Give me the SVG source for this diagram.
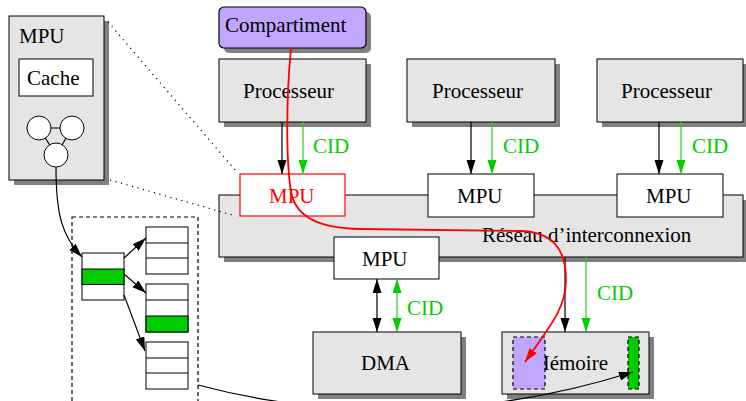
<svg xmlns="http://www.w3.org/2000/svg" width="746" height="401" viewBox="0 0 746 401">
  <style>
    text { font-family: "Liberation Serif", "Times New Roman", serif; font-size: 21px; fill: #000; }
    .grey { fill: #e5e5e5; stroke: #000; stroke-width: 1; }
    .white { fill: #fff; stroke: #000; stroke-width: 1; }
    .shadow { fill: #808080; stroke: none; }
    .cid { fill: #00cc00; }
    .ln { fill: none; stroke: #000; stroke-width: 1.2; }
    .gln { fill: none; stroke: #22cc22; stroke-width: 1.2; }
    .dot { fill: none; stroke: #000; stroke-width: 1.2; stroke-dasharray: 1.2 4.5; }
    .dash { fill: none; stroke: #000; stroke-width: 1.2; stroke-dasharray: 4 3; }
  </style>
  <defs>
    <marker id="ab" markerUnits="userSpaceOnUse" markerWidth="16" markerHeight="10" refX="14" refY="4.5" orient="auto-start-reverse">
      <path d="M0,0 L14,4.5 L0,9 Z" fill="#000"/>
    </marker>
    <marker id="ag" markerUnits="userSpaceOnUse" markerWidth="16" markerHeight="10" refX="14" refY="4.5" orient="auto-start-reverse">
      <path d="M0,0 L14,4.5 L0,9 Z" fill="#00cc00"/>
    </marker>
    <marker id="ar" markerUnits="userSpaceOnUse" markerWidth="16" markerHeight="10" refX="14" refY="4.5" orient="auto">
      <path d="M0,0 L14,4.5 L0,9 Z" fill="#ff0000"/>
    </marker>
  </defs>

  <!-- detailed MPU -->
  <g id="mpu-detail">
    <rect class="shadow" x="14" y="21" width="95" height="164"/>
    <rect class="grey" x="9" y="16" width="95" height="164"/>
    <text x="19" y="43">MPU</text>
    <rect class="white" x="19" y="59" width="74" height="37"/>
    <text x="27" y="85">Cache</text>
    <line class="ln" x1="39" y1="128" x2="72" y2="128"/>
    <line class="ln" x1="39" y1="128" x2="56" y2="155"/>
    <line class="ln" x1="72" y1="128" x2="56" y2="155"/>
    <circle class="white" cx="39" cy="128" r="12"/>
    <circle class="white" cx="72" cy="128" r="12"/>
    <circle class="white" cx="56" cy="155" r="12"/>
  </g>

  <!-- page tables -->
  <g id="tables">
    <rect class="dash" x="72" y="217" width="126" height="190"/>
    <g id="table-root">
      <rect class="white" x="82" y="253" width="42" height="47"/>
      <rect x="82" y="269" width="42" height="15.5" fill="#00cc00" stroke="#000"/>
    </g>
    <g id="table-1">
      <rect class="white" x="146" y="227" width="42" height="47"/>
      <line class="ln" x1="146" y1="243" x2="188" y2="243"/>
      <line class="ln" x1="146" y1="258" x2="188" y2="258"/>
    </g>
    <g id="table-2">
      <rect class="white" x="146" y="284" width="42" height="48"/>
      <line class="ln" x1="146" y1="300" x2="188" y2="300"/>
      <rect x="146" y="316" width="42" height="16" fill="#00cc00" stroke="#000"/>
    </g>
    <g id="table-3">
      <rect class="white" x="146" y="342" width="42" height="47"/>
      <line class="ln" x1="146" y1="358" x2="188" y2="358"/>
      <line class="ln" x1="146" y1="373" x2="188" y2="373"/>
    </g>
  </g>

  <!-- compartment -->
  <g id="compartiment">
    <rect class="shadow" x="224" y="12" width="147" height="41" rx="5"/>
    <rect x="219" y="7" width="147" height="41" rx="5" fill="#bfa6ff" stroke="#000" stroke-width="1.2"/>
    <text x="225" y="32">Compartiment</text>
  </g>

  <!-- processors -->
  <g id="processeur-1">
    <rect class="shadow" x="224" y="64" width="147" height="63"/>
    <rect class="grey" x="219" y="59" width="147" height="63"/>
    <text x="243" y="98">Processeur</text>
  </g>
  <g id="processeur-2">
    <rect class="shadow" x="412" y="64" width="148" height="63"/>
    <rect class="grey" x="407" y="59" width="148" height="63"/>
    <text x="432" y="98">Processeur</text>
  </g>
  <g id="processeur-3">
    <rect class="shadow" x="602" y="64" width="146" height="63"/>
    <rect class="grey" x="597" y="59" width="146" height="63"/>
    <text x="621" y="98">Processeur</text>
  </g>

  <!-- interconnect -->
  <g id="reseau">
    <rect class="shadow" x="224" y="200" width="524" height="62"/>
    <rect class="grey" x="219" y="195" width="524" height="62"/>
    <text x="482" y="242">Réseau d’interconnexion</text>
  </g>

  <!-- MPUs -->
  <g id="mpu-1">
    <rect x="240" y="174" width="105" height="42" fill="#fff" stroke="#ff0000" stroke-width="1.2"/>
    <text x="269" y="203" style="fill:#ff0000">MPU</text>
  </g>
  <g id="mpu-2">
    <rect class="white" x="428" y="174" width="106" height="43"/>
    <text x="457" y="203">MPU</text>
  </g>
  <g id="mpu-3">
    <rect class="white" x="617" y="174" width="106" height="43"/>
    <text x="646" y="203">MPU</text>
  </g>
  <g id="mpu-dma">
    <rect class="white" x="334" y="237" width="105" height="42"/>
    <text x="362" y="266">MPU</text>
  </g>

  <!-- DMA -->
  <g id="dma">
    <rect class="shadow" x="318" y="337" width="148" height="62"/>
    <rect class="grey" x="313" y="332" width="148" height="62"/>
    <text x="361" y="370">DMA</text>
  </g>

  <!-- memory -->
  <g id="memoire">
    <rect class="shadow" x="507" y="337" width="147" height="62"/>
    <rect class="grey" x="502" y="332" width="147" height="62"/>
    <text x="531" y="370">Mémoire</text>
    <rect x="513" y="337" width="32" height="52" fill="#bfa6ff" stroke="#000" stroke-width="1.2" stroke-dasharray="4 3"/>
    <rect x="628" y="337" width="11" height="52" fill="#00cc00" stroke="#000" stroke-width="1.2" stroke-dasharray="4 3"/>
  </g>

  <!-- connectors -->
  <g id="connectors">
    <line class="dot" x1="108" y1="22" x2="236" y2="171"/>
    <line class="dot" x1="110" y1="180" x2="236" y2="216"/>

    <line class="ln" x1="282" y1="122" x2="282" y2="174" marker-end="url(#ab)"/>
    <line class="gln" x1="303" y1="122" x2="303" y2="174" marker-end="url(#ag)"/>
    <text class="cid" x="313" y="153">CID</text>

    <line class="ln" x1="471" y1="122" x2="471" y2="174" marker-end="url(#ab)"/>
    <line class="gln" x1="492" y1="122" x2="492" y2="174" marker-end="url(#ag)"/>
    <text class="cid" x="503" y="153">CID</text>

    <line class="ln" x1="659" y1="122" x2="659" y2="174" marker-end="url(#ab)"/>
    <line class="gln" x1="681" y1="122" x2="681" y2="174" marker-end="url(#ag)"/>
    <text class="cid" x="692" y="153">CID</text>

    <line class="ln" x1="377" y1="279" x2="377" y2="332" marker-start="url(#ab)" marker-end="url(#ab)"/>
    <line class="gln" x1="397" y1="279" x2="397" y2="332" marker-start="url(#ag)" marker-end="url(#ag)"/>
    <text class="cid" x="407" y="315">CID</text>

    <line class="ln" x1="565" y1="257" x2="565" y2="332" marker-end="url(#ab)"/>
    <line class="gln" x1="586" y1="257" x2="586" y2="332" marker-end="url(#ag)"/>
    <text class="cid" x="597" y="300">CID</text>

    <path class="ln" d="M56 167 C56 215 62 236 82 257" marker-end="url(#ab)"/>
    <line class="ln" x1="124" y1="258" x2="146" y2="238" marker-end="url(#ab)"/>
    <line class="ln" x1="124" y1="274" x2="146" y2="293" marker-end="url(#ab)"/>
    <line class="ln" x1="124" y1="295" x2="145" y2="351" marker-end="url(#ab)"/>
    <path class="ln" d="M198 385 C330 420 480 420 633 372" marker-end="url(#ab)"/>

    <path d="M291 48 C286 100 286 160 291 192 C296 218 320 228 360 229 L520 231 C552 232 566 248 566 280 C566 305 555 320 525 362" fill="none" stroke="#ff0000" stroke-width="1.8" marker-end="url(#ar)"/>
  </g>
</svg>
